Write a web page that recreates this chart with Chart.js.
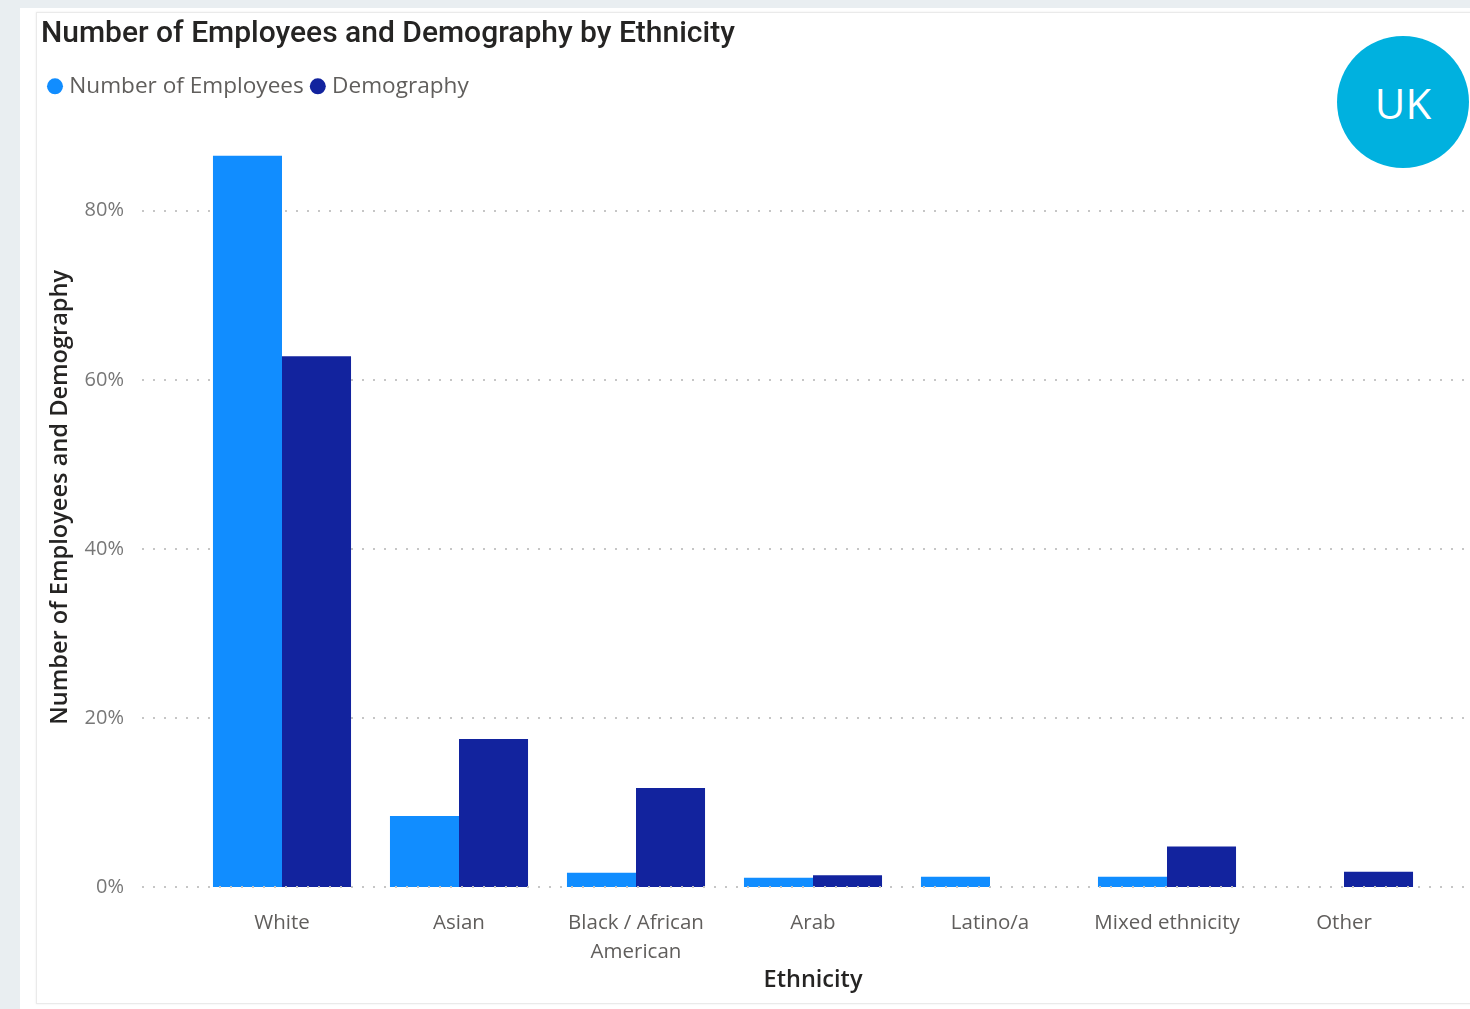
<!DOCTYPE html>
<html>
<head>
<meta charset="utf-8">
<title>Number of Employees and Demography by Ethnicity</title>
<script src="https://cdn.jsdelivr.net/npm/chart.js@4.4.1/dist/chart.umd.min.js"></script>
<style>
  html, body { margin: 0; padding: 0; }
  body { width: 1470px; height: 1009px; background: #e9eef1; position: relative; overflow: hidden; }
  #sheet { position: absolute; left: 20px; top: 8px; right: 0; bottom: 0; background: #ffffff; }
  #panel { position: absolute; left: 36px; top: 12px; width: 1450px; height: 990px;
           border: 1px solid #eaeaea; box-shadow: 0 0 2px rgba(0,0,0,0.08); background: #ffffff; }
  #wrap { position: absolute; left: 37px; top: 14px; width: 1433px; height: 988px; }
  #badge { position: absolute; left: 1337px; top: 36px; width: 132px; height: 132px; border-radius: 50%;
           background: #00b1df; color: #ffffff; font: 400 42px 'Open Sans', sans-serif;
           display: flex; align-items: center; justify-content: center; }
</style>
</head>
<body>
<div id="sheet"></div>
<div id="panel"></div>
<div id="wrap"><canvas id="chart" width="1433" height="988"></canvas></div>
<div id="badge">UK</div>
<script>
// Share of employees vs. population share, per ethnic group
const categories = ['White', 'Asian', ['Black / African', 'American'], 'Arab', 'Latino/a', 'Mixed ethnicity', 'Other'];
const employees  = [0.865, 0.084, 0.017, 0.011, 0.012, 0.012, 0];
const demography = [0.628, 0.175, 0.117, 0.014, 0, 0.048, 0.018];
const seriesNames = ['Number of Employees', 'Demography'];
const yTicks = [0, 0.2, 0.4, 0.6, 0.8];

const LABEL_FONT = "'Open Sans', 'Noto Sans', sans-serif";
const TITLE_FONT = "Roboto, 'Noto Sans', sans-serif";

// Dotted horizontal guides, running from the tick labels to the right edge
const dottedGrid = {
  id: 'dottedGrid',
  drawLines(chart, zeroOnly) {
    const y = chart.scales.y;
    const ctx = chart.ctx;
    ctx.save();
    ctx.strokeStyle = '#c6c6c6';
    ctx.lineWidth = 2;
    ctx.setLineDash([2, 9]);
    y.ticks.forEach(t => {
      if ((t.value === 0) !== zeroOnly) return;
      const py = Math.round(y.getPixelForValue(t.value));
      ctx.beginPath();
      ctx.moveTo(105, py);
      ctx.lineTo(chart.width, py);
      ctx.stroke();
    });
    ctx.restore();
  },
  beforeDatasetsDraw(chart) { this.drawLines(chart, false); },
  afterDatasetsDraw(chart) { this.drawLines(chart, true); }
};

new Chart(document.getElementById('chart'), {
  type: 'bar',
  data: {
    labels: categories,
    datasets: [
      { label: seriesNames[0], data: employees,  backgroundColor: '#118dff', borderWidth: 0 },
      { label: seriesNames[1], data: demography, backgroundColor: '#12239e', borderWidth: 0 }
    ]
  },
  plugins: [dottedGrid],
  options: {
    responsive: false,
    animation: false,
    devicePixelRatio: 1,
    events: [],
    layout: { padding: { left: 4, right: 37.5, top: 0, bottom: 0 } },
    datasets: { bar: { categoryPercentage: 0.78, barPercentage: 1.0 } },
    plugins: {
      tooltip: { enabled: false },
      title: {
        display: true,
        text: 'Number of Employees and Demography by Ethnicity',
        align: 'start',
        color: '#252423',
        font: { family: TITLE_FONT, size: 30, weight: '500', lineHeight: 1.2 },
        padding: { top: 2, bottom: 12 }
      },
      legend: {
        display: true,
        position: 'top',
        align: 'start',
        labels: {
          usePointStyle: true,
          pointStyle: 'circle',
          boxWidth: 6,
          boxHeight: 11.3,
          padding: 11,
          color: '#605e5c',
          font: { family: LABEL_FONT, size: 22.6 }
        }
      }
    },
    scales: {
      x: {
        grid: { display: false, drawTicks: false },
        border: { display: false },
        afterFit(scale) { scale.height = 115; },
        ticks: {
          padding: 22,
          color: '#605e5c',
          maxRotation: 0,
          autoSkip: false,
          font: { family: LABEL_FONT, size: 20.5, lineHeight: 1.4 }
        },
        title: {
          display: true,
          text: 'Ethnicity',
          color: '#252423',
          font: { family: LABEL_FONT, size: 23.5, weight: '600', lineHeight: 1.2 },
          padding: { top: 0, bottom: 8 }
        }
      },
      y: {
        min: 0,
        max: 0.922,
        grid: { display: false, drawTicks: false },
        border: { display: false },
        afterFit(scale) { scale.width = 152.5; },
        afterBuildTicks(scale) { scale.ticks = yTicks.map(v => ({ value: v })); },
        ticks: {
          padding: 69.5,
          color: '#777777',
          font: { family: LABEL_FONT, size: 20 },
          callback: v => Math.round(v * 100) + '%'
        },
        title: {
          display: true,
          text: 'Number of Employees and Demography',
          color: '#252423',
          font: { family: LABEL_FONT, size: 23.6, weight: '600', lineHeight: 1.2 },
          padding: { top: 5, bottom: 0 }
        }
      }
    }
  }
});
</script>
</body>
</html>
